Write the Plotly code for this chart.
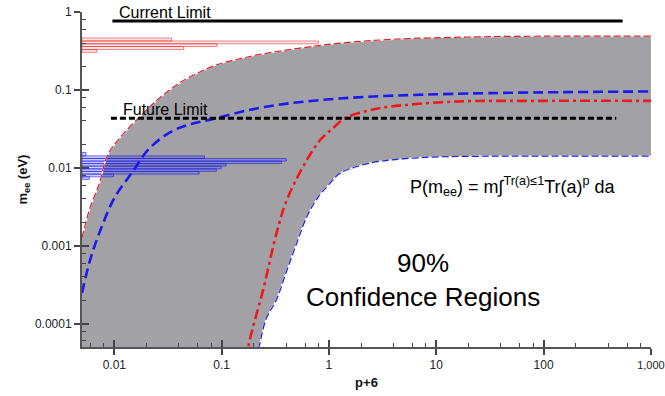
import math
import plotly.graph_objects as go

# ---------------- data ----------------
# Upper edge of the 90% region (red thin dashed)
upper_x = [0.005, 0.00585, 0.00725, 0.00865, 0.0112, 0.0171, 0.0251, 0.0377, 0.0562, 0.0889, 0.158, 0.26, 0.562, 1.26, 3.98, 20.0, 100.0, 1000.0]
upper_y = [0.00126, 0.00288, 0.00631, 0.0145, 0.024, 0.0447, 0.0741, 0.115, 0.158, 0.209, 0.257, 0.295, 0.347, 0.398, 0.447, 0.478, 0.49, 0.49]

# Lower edge of the 90% region (blue thin dashed)
lower_x = [0.19, 0.223, 0.26, 0.325, 0.40, 0.50, 0.63, 0.80, 1.0, 1.27, 2.41, 7.08, 29.5, 100.0, 1000.0]
lower_y = [0.00002, 0.00005, 0.000115, 0.000204, 0.000457, 0.00107, 0.00245, 0.00427, 0.0061, 0.0085, 0.0115, 0.0135, 0.0141, 0.0141, 0.0141]

# Central blue curve (thick dashed)
blue_x = [0.005, 0.0059, 0.00724, 0.01, 0.0148, 0.0214, 0.038, 0.0832, 0.26, 1.26, 14.5, 1000.0]
blue_y = [0.000248, 0.00063, 0.00145, 0.00407, 0.00891, 0.0180, 0.0315, 0.0425, 0.0610, 0.0776, 0.0891, 0.0955]

# Central red curve (thick dash-dot)
red_x = [0.15, 0.177, 0.244, 0.325, 0.405, 0.622, 0.824, 1.07, 1.41, 2.24, 3.45, 14.5, 100.0, 1000.0]
red_y = [0.00001, 0.00005, 0.000275, 0.00145, 0.00389, 0.0126, 0.0226, 0.0316, 0.0433, 0.0537, 0.0603, 0.0708, 0.0724, 0.0724]

# Limits
current_limit = 0.767
current_x = [0.0096, 545.0]
future_limit = 0.0433
future_x = [0.0093, 475.0]

# Red histogram (bin edges in m_ee, bar ends on the p+6 axis)
red_edges = [0.464, 0.425, 0.391, 0.361, 0.330, 0.304]
red_ends = [0.0342, 0.80, 0.0906, 0.0443, 0.00689]

# Blue histogram
blue_edges = [0.01574, 0.01426, 0.0132, 0.0122, 0.01133, 0.01052, 0.0097, 0.009, 0.0083, 0.00767, 0.0071]
blue_ends = [0.00545, 0.0692, 0.40, 0.361, 0.110, 0.0989, 0.0893, 0.0617, 0.00985, 0.00585]

x_ticks = [0.01, 0.1, 1, 10, 100, 1000]
x_ticktext = ["0.01", "0.1", "1", "10", "100", '<span style="font-size:11px">1,000</span>']
y_ticks = [0.0001, 0.001, 0.01, 0.1, 1]
y_ticktext = ["0.0001", "0.001", "0.01", "0.1", "1"]

X_MIN = 0.005
X_RANGE = [-2.301, 3.0005]
Y_RANGE = [-4.3, 0.0005]

# ---------------- figure ----------------
FONT = "Liberation Sans, Arial, Helvetica, sans-serif"
fig = go.Figure()

# gray confidence region
fill_x = upper_x + lower_x[::-1] + [X_MIN]
fill_y = upper_y + lower_y[::-1] + [0.000001]
fig.add_trace(go.Scatter(x=fill_x, y=fill_y, mode="lines", fill="toself",
                         fillcolor="#a2a2a6", line=dict(width=0), hoverinfo="skip", showlegend=False))

def hist_trace(edges, ends, fillc, linec):
    xs, ys = [], []
    for i, e in enumerate(ends):
        y0, y1 = edges[i], edges[i + 1]
        xs += [X_MIN, e, e, X_MIN, X_MIN, None]
        ys += [y0, y0, y1, y1, y0, None]
    return go.Scatter(x=xs, y=ys, mode="lines", fill="toself", fillcolor=fillc,
                      line=dict(color=linec, width=1), hoverinfo="skip", showlegend=False)

fig.add_trace(hist_trace(red_edges, red_ends, "rgba(255,60,60,0.12)", "rgba(225,40,40,0.55)"))
fig.add_trace(hist_trace(blue_edges, blue_ends, "rgba(40,40,255,0.22)", "rgba(30,30,235,0.6)"))

# boundary lines (white underlay + dashed colour)
for xs, ys, col in [(upper_x, upper_y, "#e0202a"), (lower_x, lower_y, "#2020e0")]:
    fig.add_trace(go.Scatter(x=xs, y=ys, mode="lines", line=dict(color="white", width=1.2, shape="spline"),
                             hoverinfo="skip", showlegend=False))
    fig.add_trace(go.Scatter(x=xs, y=ys, mode="lines", line=dict(color=col, width=1.2, dash="7px,3px", shape="spline"),
                             hoverinfo="skip", showlegend=False))

fig.add_trace(go.Scatter(x=blue_x, y=blue_y, mode="lines",
                         line=dict(color="#1a1aee", width=2.6, dash="10px,5px", shape="spline"),
                         hoverinfo="skip", showlegend=False))
fig.add_trace(go.Scatter(x=red_x, y=red_y, mode="lines",
                         line=dict(color="#ee1a1a", width=2.6, dash="10px,4px,3px,4px", shape="spline"),
                         hoverinfo="skip", showlegend=False))

fig.add_trace(go.Scatter(x=current_x, y=[current_limit] * 2, mode="lines",
                         line=dict(color="black", width=3), hoverinfo="skip", showlegend=False))
fig.add_trace(go.Scatter(x=future_x, y=[future_limit] * 2, mode="lines",
                         line=dict(color="black", width=3, dash="6px,3px"), hoverinfo="skip", showlegend=False))

# invisible trace for the overlay axes (inside part of major ticks)
fig.add_trace(go.Scatter(x=[1], y=[0.01], xaxis="x2", yaxis="y2", mode="markers",
                         marker=dict(opacity=0), hoverinfo="skip", showlegend=False))

def minor_vals(lo, hi):
    vals = []
    for e in range(lo, hi):
        for k in (2, 4, 6, 8):
            vals.append(k * 10.0 ** e)
    return vals

axis_common = dict(type="log", showgrid=False, zeroline=False, showline=True, automargin=False,
                   linecolor="#555555", linewidth=2, ticks="outside", ticklen=6, tickwidth=1.5,
                   tickcolor="#444444", tickmode="array", ticklabeloverflow="allow",
                   tickfont=dict(family=FONT, size=12, color="#222222"))

fig.update_layout(
    width=665, height=396,
    margin=dict(l=82, r=14, t=12, b=49),
    paper_bgcolor="white", plot_bgcolor="white",
    xaxis=dict(axis_common, range=X_RANGE, tickvals=x_ticks, ticktext=x_ticktext,
               minor=dict(tickmode="array", tickvals=minor_vals(-3, 3), ticks="inside", ticklen=4,
                          tickcolor="#444444", tickwidth=1, showgrid=False),
               title=dict(text="p+6", font=dict(family=FONT, size=13, color="#111111", weight="bold"), standoff=6)),
    yaxis=dict(axis_common, range=Y_RANGE, tickvals=y_ticks, ticktext=y_ticktext,
               minor=dict(tickmode="array", tickvals=minor_vals(-5, 0), ticks="inside", ticklen=4,
                          tickcolor="#444444", tickwidth=1, showgrid=False),
               title=dict(text="m<sub>ee</sub> (eV)", font=dict(family=FONT, size=13, color="#111111", weight="bold"), standoff=4)),
    xaxis2=dict(type="log", overlaying="x", range=X_RANGE, showgrid=False, zeroline=False, showline=False,
                automargin=False, ticks="inside", ticklen=7, tickwidth=1.5, tickcolor="#444444", tickmode="array",
                tickvals=x_ticks, showticklabels=False, anchor="y2", side="bottom"),
    yaxis2=dict(type="log", overlaying="y", range=Y_RANGE, showgrid=False, zeroline=False, showline=False,
                automargin=False, ticks="inside", ticklen=7, tickwidth=1.5, tickcolor="#444444", tickmode="array",
                tickvals=y_ticks, showticklabels=False, anchor="x2", side="left"),
    showlegend=False,
)

# annotations on log axes take log10 positions
fig.add_annotation(x=math.log10(current_x[0]), y=math.log10(current_limit), xref="x", yref="y",
                   text="Current Limit", showarrow=False, xanchor="left", yanchor="middle",
                   xshift=5, yshift=8.5, font=dict(family=FONT, size=16, color="black"))
fig.add_annotation(x=math.log10(future_x[0]), y=math.log10(future_limit), xref="x", yref="y",
                   text="Future Limit", showarrow=False, xanchor="left", yanchor="middle",
                   xshift=10, yshift=9, font=dict(family=FONT, size=16, color="black"))
fig.add_annotation(x=0.757, y=0.48, xref="paper", yref="paper",
                   text="P(m<sub>ee</sub>) = m∫<sup>Tr(a)≤1</sup>Tr(a)<sup>p</sup> da", showarrow=False,
                   xanchor="center", yanchor="middle",
                   font=dict(family=FONT, size=18, color="black"))
fig.add_annotation(x=0.6, y=0.2, xref="paper", yref="paper",
                   text="90%<br>Confidence Regions", showarrow=False,
                   xanchor="center", yanchor="middle", align="center",
                   font=dict(family=FONT, size=26, color="black"))

# remove the browser's default 8px body margin so the 665x396 figure fills the window exactly
fig.write_html("out.html", config={"displayModeBar": False},
               post_script="document.body.style.margin='0px';")
